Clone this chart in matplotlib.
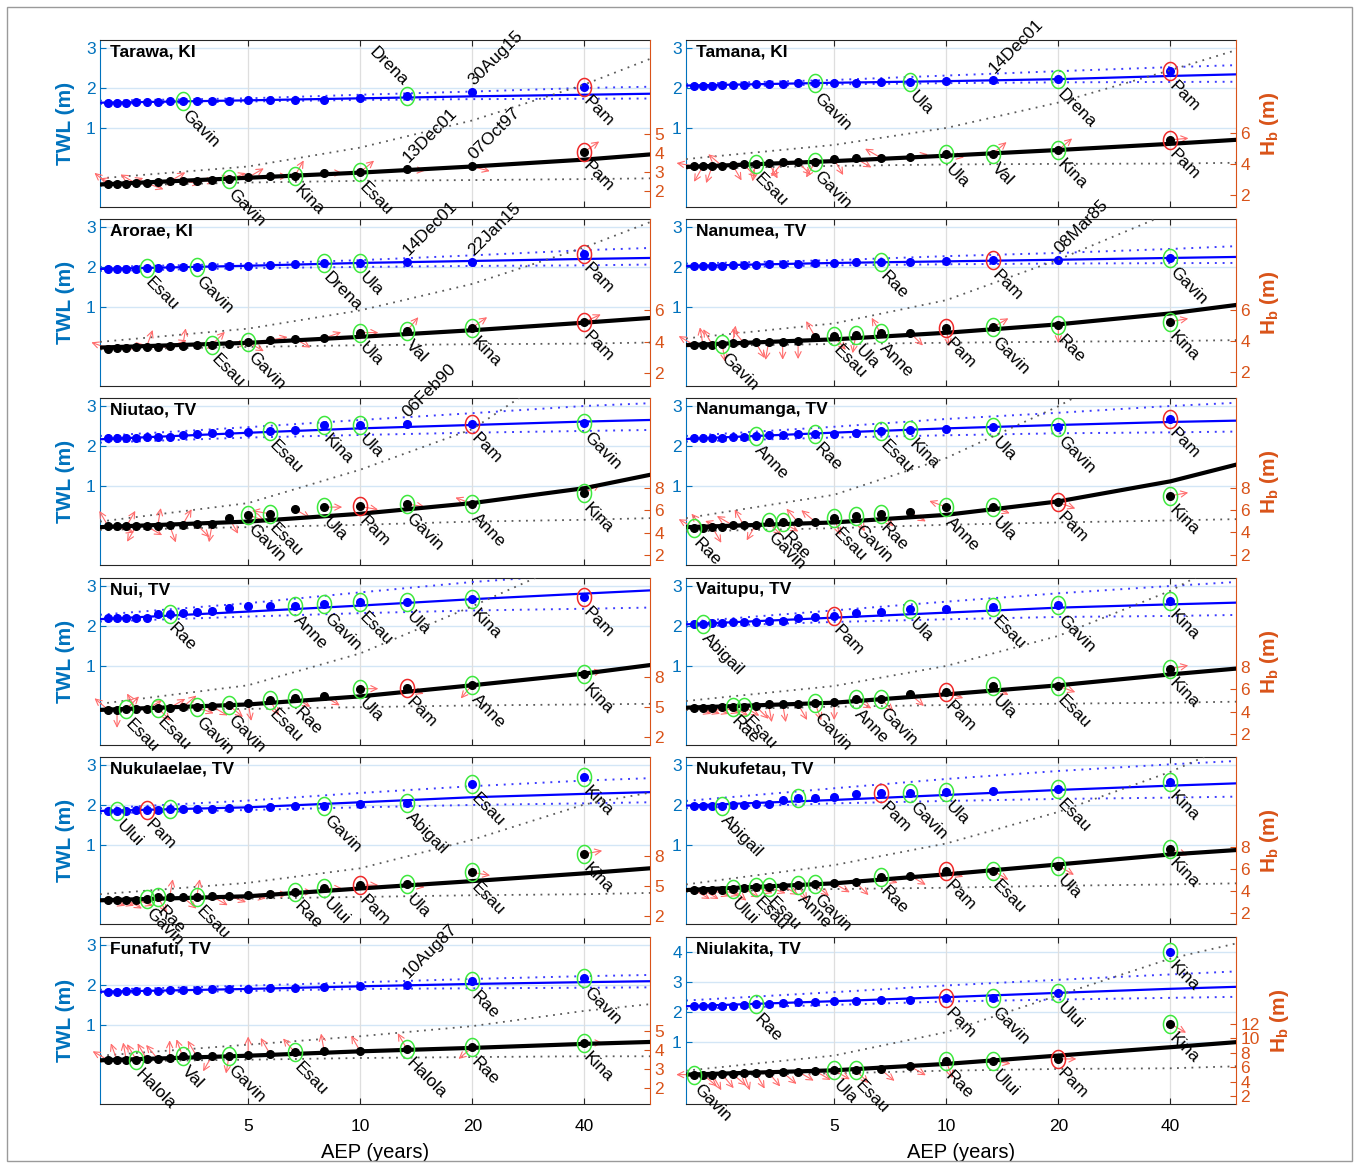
import numpy as np
import matplotlib
matplotlib.use("Agg")
import matplotlib.pyplot as plt
from matplotlib.path import Path
from matplotlib.patches import Rectangle
from matplotlib.ticker import NullLocator, FixedLocator, FixedFormatter, NullFormatter

plt.rcParams['font.family'] = ['Liberation Sans', 'DejaVu Sans']
plt.rcParams['mathtext.fontset'] = 'custom'
plt.rcParams['mathtext.rm'] = 'Liberation Sans'
plt.rcParams['mathtext.bf'] = 'Liberation Sans:bold'

# ---------------- common axes data ----------------
RANK = np.arange(1, 20)            # rank m of annual maxima (N = 39 years)
AEP = 40.0 / RANK                   # return period (years)
FIT_AEP = [2, 5, 10, 20, 40, 60]    # nodes where fitted curves / bounds were read
X_TICKS = [5, 10, 20, 40]
X_TICK_LABELS = ["5", "10", "20", "40"]
X_LIM = (2, 60)

# ---------------- Tarawa, KI ----------------
SITE_TARAWA = "Tarawa, KI"
TWL_TARAWA = [2.03, 1.90, 1.81, 1.74, 1.70, 1.70, 1.69, 1.69, 1.68, 1.68, 1.675, 1.675, 1.667, 1.66, 1.65, 1.64, 1.63, 1.625, 1.62]
TWL_FIT_TARAWA = [1.63, 1.69, 1.74, 1.79, 1.83, 1.855]
TWL_HI_TARAWA = [1.68, 1.74, 1.83, 1.91, 2.00, 2.03]
TWL_LO_TARAWA = [1.60, 1.66, 1.70, 1.72, 1.73, 1.735]
HB_TARAWA = [4.07, 3.30, 3.16, 3.00, 2.96, 2.80, 2.79, 2.73, 2.63, 2.59, 2.55, 2.55, 2.52, 2.48, 2.43, 2.41, 2.375, 2.36, 2.36]
HB_FIT_TARAWA = [2.36, 2.71, 2.98, 3.30, 3.66, 3.93]
HB_HI_TARAWA = [2.68, 3.30, 4.29, 5.71, 7.59, 8.93]
HB_LO_TARAWA = [2.29, 2.46, 2.55, 2.59, 2.64, 2.68]
HB_DIR_TARAWA = [35, -15, -5, 40, 0, 60, 0, 30, 20, 10, 0, -10, 30, 0, -20, 150, 20, 160, 140]
TWL_TAGS_TARAWA = [(1, "Pam", "r"), (2, "30Aug15", "d"), (3, "Drena", "gu"), (12, "Gavin", "g")]
HB_TAGS_TARAWA = [(1, "Pam", "r"), (2, "07Oct97", "d"), (3, "13Dec01", "d"), (4, "Esau", "g"), (6, "Kina", "g"), (9, "Gavin", "g")]
HB_LIM_TARAWA = (1.18, 9.92)
HB_TICKS_TARAWA = [2, 3, 4, 5]

# ---------------- Tamana, KI ----------------
SITE_TAMANA = "Tamana, KI"
TWL_TAMANA = [2.42, 2.22, 2.195, 2.17, 2.15, 2.144, 2.136, 2.127, 2.12, 2.12, 2.11, 2.10, 2.093, 2.085, 2.076, 2.07, 2.06, 2.06, 2.06]
TWL_FIT_TAMANA = [2.06, 2.13, 2.17, 2.22, 2.30, 2.34]
TWL_HI_TAMANA = [2.10, 2.20, 2.31, 2.42, 2.52, 2.57]
TWL_LO_TAMANA = [2.02, 2.09, 2.12, 2.14, 2.15, 2.155]
HB_TAMANA = [5.58, 4.92, 4.68, 4.64, 4.44, 4.42, 4.37, 4.31, 4.15, 4.13, 4.11, 4.09, 4.04, 3.98, 3.96, 3.89, 3.87, 3.87, 3.87]
HB_FIT_TAMANA = [3.82, 4.20, 4.55, 4.92, 5.32, 5.58]
HB_HI_TAMANA = [4.33, 5.25, 6.35, 8.00, 10.1, 11.4]
HB_LO_TAMANA = [3.71, 3.89, 3.98, 4.02, 4.04, 4.09]
HB_DIR_TAMANA = [5, 40, 40, -10, 10, 150, -30, -60, -120, -45, -130, -60, -100, -45, -60, 140, -110, -120, 170]
TWL_TAGS_TAMANA = [(1, "Pam", "r"), (2, "Drena", "g"), (3, "14Dec01", "d"), (5, "Ula", "g"), (9, "Gavin", "g")]
HB_TAGS_TAMANA = [(1, "Pam", "r"), (2, "Kina", "g"), (3, "Val", "g"), (4, "Ula", "g"), (9, "Gavin", "g"), (13, "Esau", "g")]
HB_LIM_TAMANA = (1.22, 12.06)
HB_TICKS_TAMANA = [2, 4, 6]

# ---------------- Arorae, KI ----------------
SITE_ARORAE = "Arorae, KI"
TWL_ARORAE = [2.33, 2.125, 2.125, 2.11, 2.11, 2.075, 2.04, 2.033, 2.025, 2.017, 2.01, 2.0, 1.99, 1.98, 1.975, 1.96, 1.95, 1.94, 1.94]
TWL_FIT_ARORAE = [1.95, 2.03, 2.10, 2.15, 2.20, 2.225]
TWL_HI_ARORAE = [2.00, 2.08, 2.17, 2.29, 2.42, 2.475]
TWL_LO_ARORAE = [1.90, 1.97, 2.00, 2.025, 2.04, 2.06]
HB_ARORAE = [5.26, 4.91, 4.69, 4.59, 4.23, 4.21, 4.11, 3.98, 3.89, 3.83, 3.79, 3.73, 3.71, 3.68, 3.68, 3.66, 3.64, 3.62, 3.58]
HB_FIT_ARORAE = [3.64, 3.94, 4.32, 4.74, 5.22, 5.52]
HB_HI_ARORAE = [4.00, 4.84, 6.00, 7.68, 10.0, 11.6]
HB_LO_ARORAE = [3.52, 3.68, 3.79, 3.85, 3.89, 3.96]
HB_DIR_ARORAE = [25, 35, 50, 0, 20, -30, 10, -30, 0, 45, 0, 80, 20, 0, 70, 0, 10, 0, 160]
TWL_TAGS_ARORAE = [(1, "Pam", "r"), (2, "22Jan15", "d"), (3, "14Dec01", "d"), (4, "Ula", "g"), (5, "Drena", "g"), (11, "Gavin", "g"), (15, "Esau", "g")]
HB_TAGS_ARORAE = [(1, "Pam", "r"), (2, "Kina", "g"), (3, "Val", "g"), (4, "Ula", "g"), (8, "Gavin", "g"), (10, "Esau", "g")]
HB_LIM_ARORAE = (1.2, 11.8)
HB_TICKS_ARORAE = [2, 4, 6]

# ---------------- Nanumea, TV ----------------
SITE_NANUMEA = "Nanumea, TV"
TWL_NANUMEA = [2.225, 2.175, 2.167, 2.14, 2.133, 2.125, 2.117, 2.11, 2.09, 2.083, 2.075, 2.067, 2.06, 2.05, 2.04, 2.033, 2.025, 2.017, 2.017]
TWL_FIT_NANUMEA = [2.025, 2.10, 2.14, 2.18, 2.225, 2.25]
TWL_HI_NANUMEA = [2.083, 2.17, 2.27, 2.35, 2.45, 2.52]
TWL_LO_NANUMEA = [1.98, 2.04, 2.067, 2.085, 2.095, 2.10]
HB_NANUMEA = [5.22, 5.0, 4.86, 4.79, 4.51, 4.47, 4.34, 4.30, 4.26, 3.98, 3.94, 3.91, 3.89, 3.87, 3.83, 3.79, 3.74, 3.72, 3.72]
HB_FIT_NANUMEA = [3.72, 4.09, 4.51, 5.05, 5.75, 6.29]
HB_HI_NANUMEA = [4.15, 5.11, 6.6, 9.2, 12.2, 13.5]
HB_LO_NANUMEA = [3.66, 3.79, 3.87, 3.94, 3.98, 4.04]
HB_DIR_NANUMEA = [10, -90, 30, -80, -45, 120, -100, -50, 120, -90, -90, -100, -60, 130, 80, -80, 120, 100, 150]
TWL_TAGS_NANUMEA = [(1, "Gavin", "g"), (2, "08Mar85", "d"), (3, "Pam", "r"), (6, "Rae", "g")]
HB_TAGS_NANUMEA = [(1, "Kina", "g"), (2, "Rae", "g"), (3, "Gavin", "g"), (4, "Pam", "r"), (6, "Anne", "g"), (7, "Ula", "g"), (8, "Esau", "g"), (16, "Gavin", "g")]
HB_LIM_NANUMEA = (1.1, 11.8)
HB_TICKS_NANUMEA = [2, 4, 6]

# ---------------- Niutao, TV ----------------
SITE_NIUTAO = "Niutao, TV"
TWL_NIUTAO = [2.58, 2.555, 2.55, 2.525, 2.525, 2.40, 2.383, 2.36, 2.333, 2.317, 2.29, 2.275, 2.233, 2.225, 2.217, 2.21, 2.20, 2.19, 2.19]
TWL_FIT_NIUTAO = [2.167, 2.33, 2.44, 2.525, 2.61, 2.65]
TWL_HI_NIUTAO = [2.25, 2.47, 2.65, 2.82, 3.00, 3.07]
TWL_LO_NIUTAO = [2.083, 2.21, 2.275, 2.333, 2.375, 2.40]
HB_NIUTAO = [7.56, 6.6, 6.6, 6.36, 6.3, 6.12, 5.7, 5.61, 5.31, 4.74, 4.74, 4.71, 4.65, 4.62, 4.59, 4.59, 4.56, 4.56, 4.56]
HB_FIT_NIUTAO = [4.5, 5.0, 5.7, 6.66, 8.0, 9.2]
HB_HI_NIUTAO = [5.0, 6.66, 9.66, 13.3, 20.0, 23.0]
HB_LO_NIUTAO = [4.26, 4.5, 4.71, 5.0, 5.16, 5.31]
HB_DIR_NIUTAO = [30, 160, -10, -10, 0, -30, 170, -20, -60, -100, -45, 60, -70, 80, -30, -120, 60, -20, 120]
TWL_TAGS_NIUTAO = [(1, "Gavin", "g"), (2, "Pam", "r"), (3, "06Feb90", "d"), (4, "Ula", "g"), (5, "Kina", "g"), (7, "Esau", "g")]
HB_TAGS_NIUTAO = [(1, "Kina", "g"), (2, "Anne", "g"), (3, "Gavin", "g"), (4, "Pam", "r"), (5, "Ula", "g"), (7, "Esau", "g"), (8, "Gavin", "g")]
HB_LIM_NIUTAO = (1.1, 16.1)
HB_TICKS_NIUTAO = [2, 4, 6, 8]

# ---------------- Nanumanga, TV ----------------
SITE_NANUMANGA = "Nanumanga, TV"
TWL_NANUMANGA = [2.683, 2.475, 2.467, 2.425, 2.40, 2.383, 2.325, 2.31, 2.30, 2.29, 2.275, 2.267, 2.25, 2.233, 2.217, 2.20, 2.19, 2.19, 2.19]
TWL_FIT_NANUMANGA = [2.175, 2.333, 2.44, 2.525, 2.60, 2.633]
TWL_HI_NANUMANGA = [2.25, 2.48, 2.675, 2.83, 3.00, 3.08]
TWL_LO_NANUMANGA = [2.11, 2.21, 2.267, 2.317, 2.34, 2.36]
HB_NANUMANGA = [7.33, 6.73, 6.3, 6.3, 5.82, 5.7, 5.52, 5.3, 4.97, 4.91, 4.91, 4.91, 4.7, 4.67, 4.67, 4.48, 4.48, 4.45, 4.39]
HB_FIT_NANUMANGA = [4.48, 4.91, 5.6, 6.82, 8.64, 10.15]
HB_HI_NANUMANGA = [5.3, 7.42, 10.76, 15.45, 21.0, 24.0]
HB_LO_NANUMANGA = [4.09, 4.39, 4.7, 4.91, 5.09, 5.21]
HB_DIR_NANUMANGA = [10, -20, -20, 160, -30, -45, -60, -70, 140, 130, -30, -45, -120, 120, 150, 160, -60, 130, 150]
TWL_TAGS_NANUMANGA = [(1, "Pam", "r"), (2, "Gavin", "g"), (3, "Ula", "g"), (5, "Kina", "g"), (6, "Esau", "g"), (9, "Rae", "g"), (13, "Anne", "g")]
HB_TAGS_NANUMANGA = [(1, "Kina", "g"), (2, "Pam", "r"), (3, "Ula", "g"), (4, "Anne", "g"), (6, "Rae", "g"), (7, "Gavin", "g"), (8, "Esau", "g"), (11, "Rae", "g"), (12, "Gavin", "g"), (19, "Rae", "g")]
HB_LIM_NANUMANGA = (1.05, 16.2)
HB_TICKS_NANUMANGA = [2, 4, 6, 8]

# ---------------- Nui, TV ----------------
SITE_NUI = "Nui, TV"
TWL_NUI = [2.72, 2.67, 2.605, 2.59, 2.555, 2.50, 2.50, 2.50, 2.445, 2.38, 2.36, 2.32, 2.30, 2.30, 2.193, 2.193, 2.193, 2.193, 2.193]
TWL_FIT_NUI = [2.17, 2.36, 2.51, 2.67, 2.81, 2.89]
TWL_HI_NUI = [2.28, 2.57, 2.84, 3.10, 3.30, 3.40]
TWL_LO_NUI = [2.11, 2.235, 2.32, 2.387, 2.43, 2.46]
HB_NUI = [8.27, 7.23, 6.93, 6.83, 6.07, 5.93, 5.73, 5.4, 5.17, 5.07, 5.0, 5.0, 4.93, 4.93, 4.8, 4.8, 4.8, 4.73, 4.73]
HB_FIT_NUI = [4.73, 5.27, 6.07, 7.17, 8.33, 9.17]
HB_HI_NUI = [5.33, 7.17, 10.33, 15.0, 20.0, 23.0]
HB_LO_NUI = [4.67, 4.83, 5.0, 5.17, 5.27, 5.33]
HB_DIR_NUI = [10, -130, -20, 0, -30, -30, -60, -80, -40, -30, -20, 40, 30, -45, 30, 120, 45, -90, 140]
TWL_TAGS_NUI = [(1, "Pam", "r"), (2, "Kina", "g"), (3, "Ula", "g"), (4, "Esau", "g"), (5, "Gavin", "g"), (6, "Anne", "g"), (13, "Rae", "g")]
HB_TAGS_NUI = [(1, "Kina", "g"), (2, "Anne", "g"), (3, "Pam", "r"), (4, "Ula", "g"), (6, "Rae", "g"), (7, "Esau", "g"), (9, "Gavin", "g"), (11, "Gavin", "g"), (14, "Esau", "g"), (17, "Esau", "g")]
HB_LIM_NUI = (1.25, 17.8)
HB_TICKS_NUI = [2, 5, 8]

# ---------------- Vaitupu, TV ----------------
SITE_VAITUPU = "Vaitupu, TV"
TWL_VAITUPU = [2.625, 2.517, 2.475, 2.433, 2.433, 2.358, 2.333, 2.25, 2.225, 2.208, 2.125, 2.125, 2.108, 2.10, 2.092, 2.083, 2.067, 2.058, 2.058]
TWL_FIT_VAITUPU = [2.04, 2.208, 2.333, 2.458, 2.54, 2.583]
TWL_HI_VAITUPU = [2.10, 2.39, 2.608, 2.817, 3.00, 3.10]
TWL_LO_VAITUPU = [1.983, 2.10, 2.167, 2.225, 2.25, 2.275]
HB_VAITUPU = [7.86, 6.3, 6.3, 5.76, 5.55, 5.16, 5.1, 4.86, 4.74, 4.65, 4.65, 4.65, 4.5, 4.44, 4.44, 4.41, 4.35, 4.35, 4.35]
HB_FIT_VAITUPU = [4.35, 4.8, 5.55, 6.36, 7.34, 7.86]
HB_HI_VAITUPU = [4.95, 6.3, 8.1, 10.8, 14.85, 18.0]
HB_LO_VAITUPU = [4.14, 4.44, 4.59, 4.71, 4.8, 4.89]
HB_DIR_VAITUPU = [10, -20, -30, -20, -40, -45, -30, -90, -70, -60, -80, -80, -45, -30, -30, -20, -20, -20, -20]
TWL_TAGS_VAITUPU = [(1, "Kina", "g"), (2, "Gavin", "g"), (3, "Esau", "g"), (5, "Ula", "g"), (8, "Pam", "r"), (18, "Abigail", "g")]
HB_TAGS_VAITUPU = [(1, "Kina", "g"), (2, "Esau", "g"), (3, "Ula", "g"), (4, "Pam", "r"), (6, "Gavin", "g"), (7, "Anne", "g"), (9, "Gavin", "g"), (14, "Esau", "g"), (15, "Rae", "g")]
HB_LIM_VAITUPU = (1.0, 16.0)
HB_TICKS_VAITUPU = [2, 4, 6, 8]

# ---------------- Nukulaelae, TV ----------------
SITE_NUKULAELAE = "Nukulaelae, TV"
TWL_NUKULAELAE = [2.70, 2.53, 2.05, 2.017, 1.983, 1.966, 1.94, 1.933, 1.916, 1.908, 1.90, 1.90, 1.90, 1.882, 1.882, 1.866, 1.857, 1.857, 1.857]
TWL_FIT_NUKULAELAE = [1.85, 1.94, 2.067, 2.193, 2.277, 2.32]
TWL_HI_NUKULAELAE = [1.916, 2.11, 2.30, 2.47, 2.61, 2.67]
TWL_LO_NUKULAELAE = [1.79, 1.874, 1.94, 2.00, 2.04, 2.067]
HB_NUKULAELAE = [8.2, 6.37, 5.2, 5.1, 4.77, 4.43, 4.2, 4.1, 4.03, 4.0, 3.93, 3.93, 3.93, 3.93, 3.77, 3.67, 3.67, 3.67, 3.67]
HB_FIT_NUKULAELAE = [3.6, 4.0, 4.77, 5.5, 6.27, 6.77]
HB_HI_NUKULAELAE = [4.2, 5.33, 6.77, 9.6, 13.1, 14.27]
HB_LO_NUKULAELAE = [3.6, 3.77, 3.93, 4.1, 4.2, 4.33]
HB_DIR_NUKULAELAE = [10, -10, -10, 0, 0, 0, 0, -10, -20, -30, 80, -40, 80, -60, 0, -20, -30, -20, -20]
TWL_TAGS_NUKULAELAE = [(1, "Kina", "g"), (2, "Esau", "g"), (3, "Abigail", "g"), (5, "Gavin", "g"), (13, "", "g"), (15, "Pam", "r"), (18, "Ului", "g")]
HB_TAGS_NUKULAELAE = [(1, "Kina", "g"), (2, "Esau", "g"), (3, "Ula", "g"), (4, "Pam", "r"), (5, "Ului", "g"), (6, "Rae", "g"), (11, "Esau", "g"), (14, "Rae", "g"), (15, "Gavin", "g")]
HB_LIM_NUKULAELAE = (1.25, 17.8)
HB_TICKS_NUKULAELAE = [2, 5, 8]

# ---------------- Nukufetau, TV ----------------
SITE_NUKUFETAU = "Nukufetau, TV"
TWL_NUKUFETAU = [2.583, 2.39, 2.358, 2.325, 2.308, 2.30, 2.275, 2.19, 2.183, 2.167, 2.125, 2.017, 2.017, 2.0, 2.0, 1.983, 1.975, 1.975, 1.975]
TWL_FIT_NUKUFETAU = [1.983, 2.125, 2.25, 2.375, 2.483, 2.54]
TWL_HI_NUKUFETAU = [2.10, 2.417, 2.65, 2.85, 3.017, 3.10]
TWL_LO_NUKUFETAU = [1.917, 2.04, 2.10, 2.15, 2.183, 2.208]
HB_NUKUFETAU = [7.82, 6.3, 5.85, 5.85, 5.39, 5.3, 4.79, 4.7, 4.6, 4.55, 4.48, 4.36, 4.36, 4.24, 4.18, 4.12, 4.09, 4.09, 4.09]
HB_FIT_NUKUFETAU = [4.09, 4.7, 5.52, 6.42, 7.33, 7.73]
HB_HI_NUKUFETAU = [4.6, 6.36, 8.33, 11.2, 14.85, 17.5]
HB_LO_NUKUFETAU = [3.94, 4.18, 4.3, 4.48, 4.6, 4.7]
HB_DIR_NUKUFETAU = [-20, -30, -30, -20, -30, -20, -45, -30, -40, -60, -30, -20, -20, -30, -40, -20, -20, -30, -30]
TWL_TAGS_NUKUFETAU = [(1, "Kina", "g"), (2, "Esau", "g"), (4, "Ula", "g"), (5, "Gavin", "g"), (6, "Pam", "r"), (10, "", "g"), (16, "Abigail", "g")]
HB_TAGS_NUKUFETAU = [(1, "Kina", "g"), (2, "Ula", "g"), (3, "Esau", "g"), (4, "Pam", "r"), (6, "Rae", "g"), (9, "Gavin", "g"), (10, "Anne", "g"), (12, "Esau", "g"), (13, "Esau", "g"), (15, "Ului", "g")]
HB_LIM_NUKUFETAU = (1.0, 16.2)
HB_TICKS_NUKUFETAU = [2, 4, 6, 8]

# ---------------- Funafuti, TV ----------------
SITE_FUNAFUTI = "Funafuti, TV"
TWL_FUNAFUTI = [2.177, 2.093, 2.0, 1.983, 1.95, 1.93, 1.924, 1.907, 1.90, 1.89, 1.88, 1.873, 1.865, 1.857, 1.848, 1.84, 1.84, 1.83, 1.83]
TWL_FIT_FUNAFUTI = [1.83, 1.90, 1.966, 2.025, 2.07, 2.093]
TWL_HI_FUNAFUTI = [1.88, 1.983, 2.067, 2.15, 2.22, 2.25]
TWL_LO_FUNAFUTI = [1.80, 1.848, 1.90, 1.916, 1.93, 1.94]
HB_FUNAFUTI = [4.35, 4.12, 4.04, 3.91, 3.91, 3.86, 3.79, 3.74, 3.68, 3.68, 3.65, 3.65, 3.54, 3.52, 3.51, 3.47, 3.44, 3.44, 3.44]
HB_FIT_FUNAFUTI = [3.44, 3.68, 3.91, 4.09, 4.30, 4.40]
HB_HI_FUNAFUTI = [3.68, 4.26, 4.70, 5.23, 6.03, 6.38]
HB_LO_FUNAFUTI = [3.38, 3.47, 3.56, 3.61, 3.65, 3.65]
HB_DIR_FUNAFUTI = [0, -140, 120, 120, 100, 130, 120, 90, -100, -120, 120, 110, 90, 130, 120, 120, 100, 110, 150]
TWL_TAGS_FUNAFUTI = [(1, "Gavin", "g"), (2, "Rae", "g"), (3, "10Aug87", "d")]
HB_TAGS_FUNAFUTI = [(1, "Kina", "g"), (2, "Rae", "g"), (3, "Halola", "g"), (6, "Esau", "g"), (9, "Gavin", "g"), (12, "Val", "g"), (16, "Halola", "g")]
HB_LIM_FUNAFUTI = (1.15, 9.9)
HB_TICKS_FUNAFUTI = [2, 3, 4, 5]

# ---------------- Niulakita, TV ----------------
SITE_NIULAKITA = "Niulakita, TV"
TWL_NIULAKITA = [4.0, 2.644, 2.489, 2.467, 2.422, 2.411, 2.389, 2.378, 2.356, 2.333, 2.311, 2.278, 2.267, 2.244, 2.222, 2.222, 2.2, 2.2, 2.2]
TWL_FIT_NIULAKITA = [2.2, 2.367, 2.5, 2.644, 2.778, 2.844]
TWL_HI_NIULAKITA = [2.389, 2.667, 2.889, 3.078, 3.256, 3.356]
TWL_LO_NIULAKITA = [2.111, 2.244, 2.356, 2.422, 2.478, 2.511]
HB_NIULAKITA = [12.05, 7.16, 6.93, 6.84, 6.14, 5.72, 5.58, 5.58, 5.49, 5.4, 5.3, 5.26, 5.21, 5.16, 5.07, 5.02, 4.98, 4.98, 4.98]
HB_FIT_NIULAKITA = [4.98, 5.58, 6.47, 7.63, 8.79, 9.49]
HB_HI_NIULAKITA = [5.53, 7.63, 10.88, 16.0, 21.1, 23.2]
HB_LO_NIULAKITA = [4.84, 5.16, 5.53, 5.77, 5.86, 6.14]
HB_DIR_NIULAKITA = [-30, 0, -10, -70, -30, -40, -45, -30, -30, -30, -40, -50, -60, -70, -40, -50, -60, -40, 180]
TWL_TAGS_NIULAKITA = [(1, "Kina", "g"), (2, "Ului", "g"), (3, "Gavin", "g"), (4, "Pam", "r"), (13, "Rae", "g")]
HB_TAGS_NIULAKITA = [(1, "Kina", "g"), (2, "Pam", "r"), (3, "Ului", "g"), (4, "Rae", "g"), (7, "Esau", "g"), (8, "Ula", "g"), (19, "Gavin", "g")]
HB_LIM_NIULAKITA = (0.9, 24.1)
HB_TICKS_NIULAKITA = [2, 4, 6, 8, 10, 12]

TWL_LIM_STD = (-0.98, 3.2)
TWL_TICKS_STD = [1, 2, 3]
TWL_LIM_NIULAKITA = (-1.05, 4.5)
TWL_TICKS_NIULAKITA = [1, 2, 3, 4]


def panel(site, twl, twl_fit, twl_hi, twl_lo, hb, hb_fit, hb_hi, hb_lo, hb_dir,
          twl_tags, hb_tags, hb_lim, hb_ticks, twl_lim=TWL_LIM_STD, twl_ticks=TWL_TICKS_STD):
    return dict(site=site, twl=twl, twl_fit=twl_fit, twl_hi=twl_hi, twl_lo=twl_lo,
                hb=hb, hb_fit=hb_fit, hb_hi=hb_hi, hb_lo=hb_lo, hb_dir=hb_dir,
                twl_tags=twl_tags, hb_tags=hb_tags, hb_lim=hb_lim, hb_ticks=hb_ticks,
                twl_lim=twl_lim, twl_ticks=twl_ticks)


PANELS = [
    panel(SITE_TARAWA, TWL_TARAWA, TWL_FIT_TARAWA, TWL_HI_TARAWA, TWL_LO_TARAWA, HB_TARAWA, HB_FIT_TARAWA,
          HB_HI_TARAWA, HB_LO_TARAWA, HB_DIR_TARAWA, TWL_TAGS_TARAWA, HB_TAGS_TARAWA, HB_LIM_TARAWA, HB_TICKS_TARAWA),
    panel(SITE_TAMANA, TWL_TAMANA, TWL_FIT_TAMANA, TWL_HI_TAMANA, TWL_LO_TAMANA, HB_TAMANA, HB_FIT_TAMANA,
          HB_HI_TAMANA, HB_LO_TAMANA, HB_DIR_TAMANA, TWL_TAGS_TAMANA, HB_TAGS_TAMANA, HB_LIM_TAMANA, HB_TICKS_TAMANA),
    panel(SITE_ARORAE, TWL_ARORAE, TWL_FIT_ARORAE, TWL_HI_ARORAE, TWL_LO_ARORAE, HB_ARORAE, HB_FIT_ARORAE,
          HB_HI_ARORAE, HB_LO_ARORAE, HB_DIR_ARORAE, TWL_TAGS_ARORAE, HB_TAGS_ARORAE, HB_LIM_ARORAE, HB_TICKS_ARORAE),
    panel(SITE_NANUMEA, TWL_NANUMEA, TWL_FIT_NANUMEA, TWL_HI_NANUMEA, TWL_LO_NANUMEA, HB_NANUMEA, HB_FIT_NANUMEA,
          HB_HI_NANUMEA, HB_LO_NANUMEA, HB_DIR_NANUMEA, TWL_TAGS_NANUMEA, HB_TAGS_NANUMEA, HB_LIM_NANUMEA, HB_TICKS_NANUMEA),
    panel(SITE_NIUTAO, TWL_NIUTAO, TWL_FIT_NIUTAO, TWL_HI_NIUTAO, TWL_LO_NIUTAO, HB_NIUTAO, HB_FIT_NIUTAO,
          HB_HI_NIUTAO, HB_LO_NIUTAO, HB_DIR_NIUTAO, TWL_TAGS_NIUTAO, HB_TAGS_NIUTAO, HB_LIM_NIUTAO, HB_TICKS_NIUTAO),
    panel(SITE_NANUMANGA, TWL_NANUMANGA, TWL_FIT_NANUMANGA, TWL_HI_NANUMANGA, TWL_LO_NANUMANGA, HB_NANUMANGA,
          HB_FIT_NANUMANGA, HB_HI_NANUMANGA, HB_LO_NANUMANGA, HB_DIR_NANUMANGA, TWL_TAGS_NANUMANGA,
          HB_TAGS_NANUMANGA, HB_LIM_NANUMANGA, HB_TICKS_NANUMANGA),
    panel(SITE_NUI, TWL_NUI, TWL_FIT_NUI, TWL_HI_NUI, TWL_LO_NUI, HB_NUI, HB_FIT_NUI,
          HB_HI_NUI, HB_LO_NUI, HB_DIR_NUI, TWL_TAGS_NUI, HB_TAGS_NUI, HB_LIM_NUI, HB_TICKS_NUI),
    panel(SITE_VAITUPU, TWL_VAITUPU, TWL_FIT_VAITUPU, TWL_HI_VAITUPU, TWL_LO_VAITUPU, HB_VAITUPU, HB_FIT_VAITUPU,
          HB_HI_VAITUPU, HB_LO_VAITUPU, HB_DIR_VAITUPU, TWL_TAGS_VAITUPU, HB_TAGS_VAITUPU, HB_LIM_VAITUPU, HB_TICKS_VAITUPU),
    panel(SITE_NUKULAELAE, TWL_NUKULAELAE, TWL_FIT_NUKULAELAE, TWL_HI_NUKULAELAE, TWL_LO_NUKULAELAE, HB_NUKULAELAE,
          HB_FIT_NUKULAELAE, HB_HI_NUKULAELAE, HB_LO_NUKULAELAE, HB_DIR_NUKULAELAE, TWL_TAGS_NUKULAELAE,
          HB_TAGS_NUKULAELAE, HB_LIM_NUKULAELAE, HB_TICKS_NUKULAELAE),
    panel(SITE_NUKUFETAU, TWL_NUKUFETAU, TWL_FIT_NUKUFETAU, TWL_HI_NUKUFETAU, TWL_LO_NUKUFETAU, HB_NUKUFETAU,
          HB_FIT_NUKUFETAU, HB_HI_NUKUFETAU, HB_LO_NUKUFETAU, HB_DIR_NUKUFETAU, TWL_TAGS_NUKUFETAU,
          HB_TAGS_NUKUFETAU, HB_LIM_NUKUFETAU, HB_TICKS_NUKUFETAU),
    panel(SITE_FUNAFUTI, TWL_FUNAFUTI, TWL_FIT_FUNAFUTI, TWL_HI_FUNAFUTI, TWL_LO_FUNAFUTI, HB_FUNAFUTI,
          HB_FIT_FUNAFUTI, HB_HI_FUNAFUTI, HB_LO_FUNAFUTI, HB_DIR_FUNAFUTI, TWL_TAGS_FUNAFUTI, HB_TAGS_FUNAFUTI,
          HB_LIM_FUNAFUTI, HB_TICKS_FUNAFUTI),
    panel(SITE_NIULAKITA, TWL_NIULAKITA, TWL_FIT_NIULAKITA, TWL_HI_NIULAKITA, TWL_LO_NIULAKITA, HB_NIULAKITA,
          HB_FIT_NIULAKITA, HB_HI_NIULAKITA, HB_LO_NIULAKITA, HB_DIR_NIULAKITA, TWL_TAGS_NIULAKITA,
          HB_TAGS_NIULAKITA, HB_LIM_NIULAKITA, HB_TICKS_NIULAKITA,
          twl_lim=TWL_LIM_NIULAKITA, twl_ticks=TWL_TICKS_NIULAKITA),
]

# ---------------- styling ----------------
C_TWL_AX = '#0072bd'
C_HB_AX = '#d95319'
C_BLUE = '#0000ff'
C_BLUE_CI = '#3c3cff'
C_GRAY_CI = '#5a5a5a'
C_ARROW = '#ff6b6b'
C_GREEN = '#3ee83e'
C_RED = '#ee2a2a'
ARROW_LEN = 13.0
TAG_FS = 12.5

th = np.linspace(0, 2 * np.pi, 60)
RING = Path(np.column_stack([0.78 * np.cos(th), np.sin(th)]))

W, H = 1357, 1163
fig = plt.figure(figsize=(W / 100, H / 100), dpi=100)
fig.patch.set_facecolor('white')
fig.patches.append(Rectangle((7 / W, 2 / H), (1352 - 7) / W, (1156 - 2) / H, transform=fig.transFigure,
                             fill=False, edgecolor='#9a9a9a', lw=1.0))

COL_X = [100, 686]
ROW_TOP = [40, 219, 398, 578, 757, 937]
AX_W, AX_H = 550, 167


def tag(ax, x, y, text, kind):
    if kind in ('g', 'r', 'gu'):
        ax.plot([x], [y], marker=RING, ms=13, mfc='none', mec=C_GREEN if kind != 'r' else C_RED,
                mew=1.1, ls='none', zorder=6, clip_on=False)
    if not text:
        return
    if kind == 'd':
        ax.annotate(text, (x, y), xytext=(3, 3), textcoords='offset points', rotation=45,
                    rotation_mode='anchor', ha='left', va='bottom', fontsize=TAG_FS, zorder=7,
                    annotation_clip=False)
    elif kind == 'gu':
        ax.annotate(text, (x, y), xytext=(-5, 5), textcoords='offset points', rotation=-45,
                    rotation_mode='anchor', ha='right', va='bottom', fontsize=TAG_FS, zorder=7,
                    annotation_clip=False)
    else:
        ax.annotate(text, (x, y), xytext=(5, -5), textcoords='offset points', rotation=-45,
                    rotation_mode='anchor', ha='left', va='top', fontsize=TAG_FS, zorder=7,
                    annotation_clip=False)


for i, p in enumerate(PANELS):
    row, col = divmod(i, 2)
    left = COL_X[col] / W
    bottom = 1 - (ROW_TOP[row] + AX_H) / H
    ax = fig.add_axes([left, bottom, AX_W / W, AX_H / H])
    ax.patch.set_visible(False)
    ax.set_xscale('log')
    ax2 = ax.twinx()
    ax2.patch.set_visible(False)

    ax.set_ylim(*p['twl_lim'])
    ax.set_yticks(p['twl_ticks'])
    ax.yaxis.set_minor_locator(NullLocator())
    ax.tick_params(axis='y', direction='in', length=4, labelsize=12.5, colors=C_TWL_AX, pad=3)
    for t in p['twl_ticks']:
        ax.axhline(t, color='#d3e6f6', lw=1.0, zorder=0)
    for t in X_TICKS:
        ax.axvline(t, color='#dedede', lw=0.9, zorder=0)
    ax.spines['left'].set_color(C_TWL_AX)
    ax.spines['right'].set_visible(False)
    for s in ('top', 'bottom'):
        ax.spines[s].set_color('#262626')
        ax.spines[s].set_linewidth(0.8)
    if col == 0:
        ax.set_ylabel('TWL (m)', color=C_TWL_AX, fontsize=15, fontweight='bold', labelpad=8)

    # TWL: fit, bounds, points
    ax.plot(FIT_AEP, p['twl_hi'], ls=(0, (1, 3)), color=C_BLUE_CI, lw=1.4, zorder=2)
    ax.plot(FIT_AEP, p['twl_lo'], ls=(0, (1, 3)), color=C_BLUE_CI, lw=1.4, zorder=2)
    ax.plot(FIT_AEP, p['twl_fit'], color=C_BLUE, lw=1.6, zorder=3)
    ax.plot(AEP, p['twl'], 'o', color=C_BLUE, ms=5.5, zorder=4)
    for m, text, kind in p['twl_tags']:
        tag(ax, AEP[m - 1], p['twl'][m - 1], text, kind)

    ax.text(0.018, 0.93, p['site'], transform=ax.transAxes, fontsize=12.5, fontweight='bold',
            va='center', ha='left', zorder=8)

    # Hb on the right axis
    ax2.set_ylim(*p['hb_lim'])
    ax2.set_yticks(p['hb_ticks'])
    ax2.yaxis.set_minor_locator(NullLocator())
    ax2.tick_params(axis='y', direction='in', length=4, labelsize=12.5, colors=C_HB_AX, pad=3)
    ax2.spines['right'].set_color(C_HB_AX)
    ax2.spines['left'].set_visible(False)
    ax2.spines['top'].set_visible(False)
    ax2.spines['bottom'].set_visible(False)
    if col == 1:
        ax2.set_ylabel(r'$\mathbf{H_b}$ (m)', color=C_HB_AX, fontsize=15, fontweight='bold', labelpad=6)

    ax2.plot(FIT_AEP, p['hb_hi'], ls=(0, (1, 3)), color=C_GRAY_CI, lw=1.3, zorder=2)
    ax2.plot(FIT_AEP, p['hb_lo'], ls=(0, (1, 3)), color=C_GRAY_CI, lw=1.3, zorder=2)
    for xv, yv, ang in zip(AEP, p['hb'], p['hb_dir']):
        dx = ARROW_LEN * np.cos(np.radians(ang))
        dy = ARROW_LEN * np.sin(np.radians(ang))
        ax2.annotate('', xy=(xv, yv), xytext=(dx, dy), textcoords='offset points',
                     arrowprops=dict(arrowstyle='<-,head_length=0.45,head_width=0.22', color=C_ARROW,
                                     lw=0.8, shrinkA=0, shrinkB=0), zorder=3, annotation_clip=False)
    ax2.plot(FIT_AEP, p['hb_fit'], color='black', lw=3.0, zorder=4)
    ax2.plot(AEP, p['hb'], 'o', color='black', ms=5.5, zorder=5)
    for m, text, kind in p['hb_tags']:
        tag(ax2, AEP[m - 1], p['hb'][m - 1], text, kind)

    # x axis (set last so nothing resets it)
    ax.set_xlim(*X_LIM)
    ax.xaxis.set_major_locator(FixedLocator(X_TICKS))
    ax.xaxis.set_minor_locator(NullLocator())
    ax.xaxis.set_minor_formatter(NullFormatter())
    if row == 5:
        ax.xaxis.set_major_formatter(FixedFormatter(X_TICK_LABELS))
        ax.set_xlabel('AEP (years)', fontsize=14.5, labelpad=6)
    else:
        ax.xaxis.set_major_formatter(NullFormatter())
    ax.tick_params(axis='x', direction='in', top=True, length=4, labelsize=12.5, pad=11, color='#262626')
    ax2.tick_params(axis='x', which='both', top=False, bottom=False, labeltop=False, labelbottom=False)

fig.savefig('out.png', dpi=100, facecolor='white')
